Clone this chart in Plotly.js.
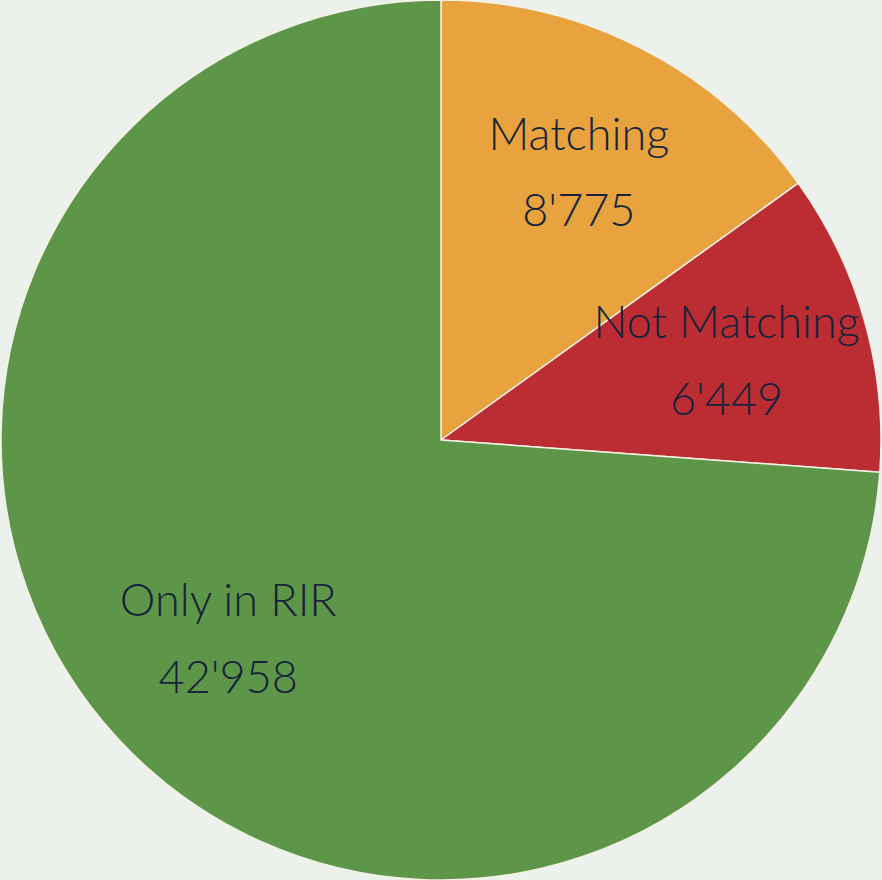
<!DOCTYPE html>
<html>
<head>
<meta charset="utf-8">
<script src="https://cdn.plot.ly/plotly-3.0.1.min.js"></script>
<style>html,body{margin:0;padding:0;background:#edf1ec;}</style>
</head>
<body>
<div id="chart" style="width:882px;height:880px;"></div>
<script>
const labels = ["Matching", "Not Matching", "Only in RIR"];
const values = [8775, 6449, 42958];
const colors = ["#e8a33e", "#bc2d33", "#5d9649"];

const BIG = 45;   // label font size (px)
const tmpl = "<span style='font-size:" + BIG + "px'>%{label}</span><br><br><span style='font-size:" + BIG + "px'>%{value:,}</span>";
const textFont = {family: "Lato, 'Noto Sans', sans-serif", size: 29.5, color: "#16233a", weight: 300};

function textOnly(i) {
  return labels.map((_, j) => (j === i ? tmpl : ""));
}

// visible pie (also carries the first label)
const main = {
  type: "pie",
  labels: labels,
  values: values,
  sort: false,
  direction: "clockwise",
  rotation: 0,
  marker: {colors: colors, line: {color: "#f4f1e6", width: 1.5}},
  textposition: "inside",
  insidetextorientation: "horizontal",
  texttemplate: textOnly(0),
  textfont: textFont,
  hoverinfo: "label+value",
  showlegend: false
};

// transparent overlays that only place the remaining labels
const overlayBase = {
  type: "pie",
  labels: labels,
  values: values,
  sort: false,
  direction: "clockwise",
  rotation: 0,
  marker: {colors: ["rgba(0,0,0,0)", "rgba(0,0,0,0)", "rgba(0,0,0,0)"], line: {width: 0}},
  textposition: "inside",
  insidetextorientation: "horizontal",
  textfont: textFont,
  hoverinfo: "skip",
  showlegend: false
};

const overlayRed = Object.assign({}, overlayBase, {
  texttemplate: textOnly(1),
  domain: {x: [0.0488, 0.9512], y: [0.0477, 0.9523]}
});

const overlayGreen = Object.assign({}, overlayBase, {
  texttemplate: textOnly(2),
  hole: 0.32
});

const layout = {
  width: 882,
  height: 880,
  margin: {l: 0, r: 0, t: 0, b: 0},
  paper_bgcolor: "#edf1ec",
  plot_bgcolor: "#edf1ec",
  separators: ".'",
  uniformtext: {mode: "show", minsize: 29.5},
  showlegend: false
};

Plotly.newPlot("chart", [main, overlayRed, overlayGreen], layout, {displayModeBar: false, staticPlot: true});
</script>
</body>
</html>
